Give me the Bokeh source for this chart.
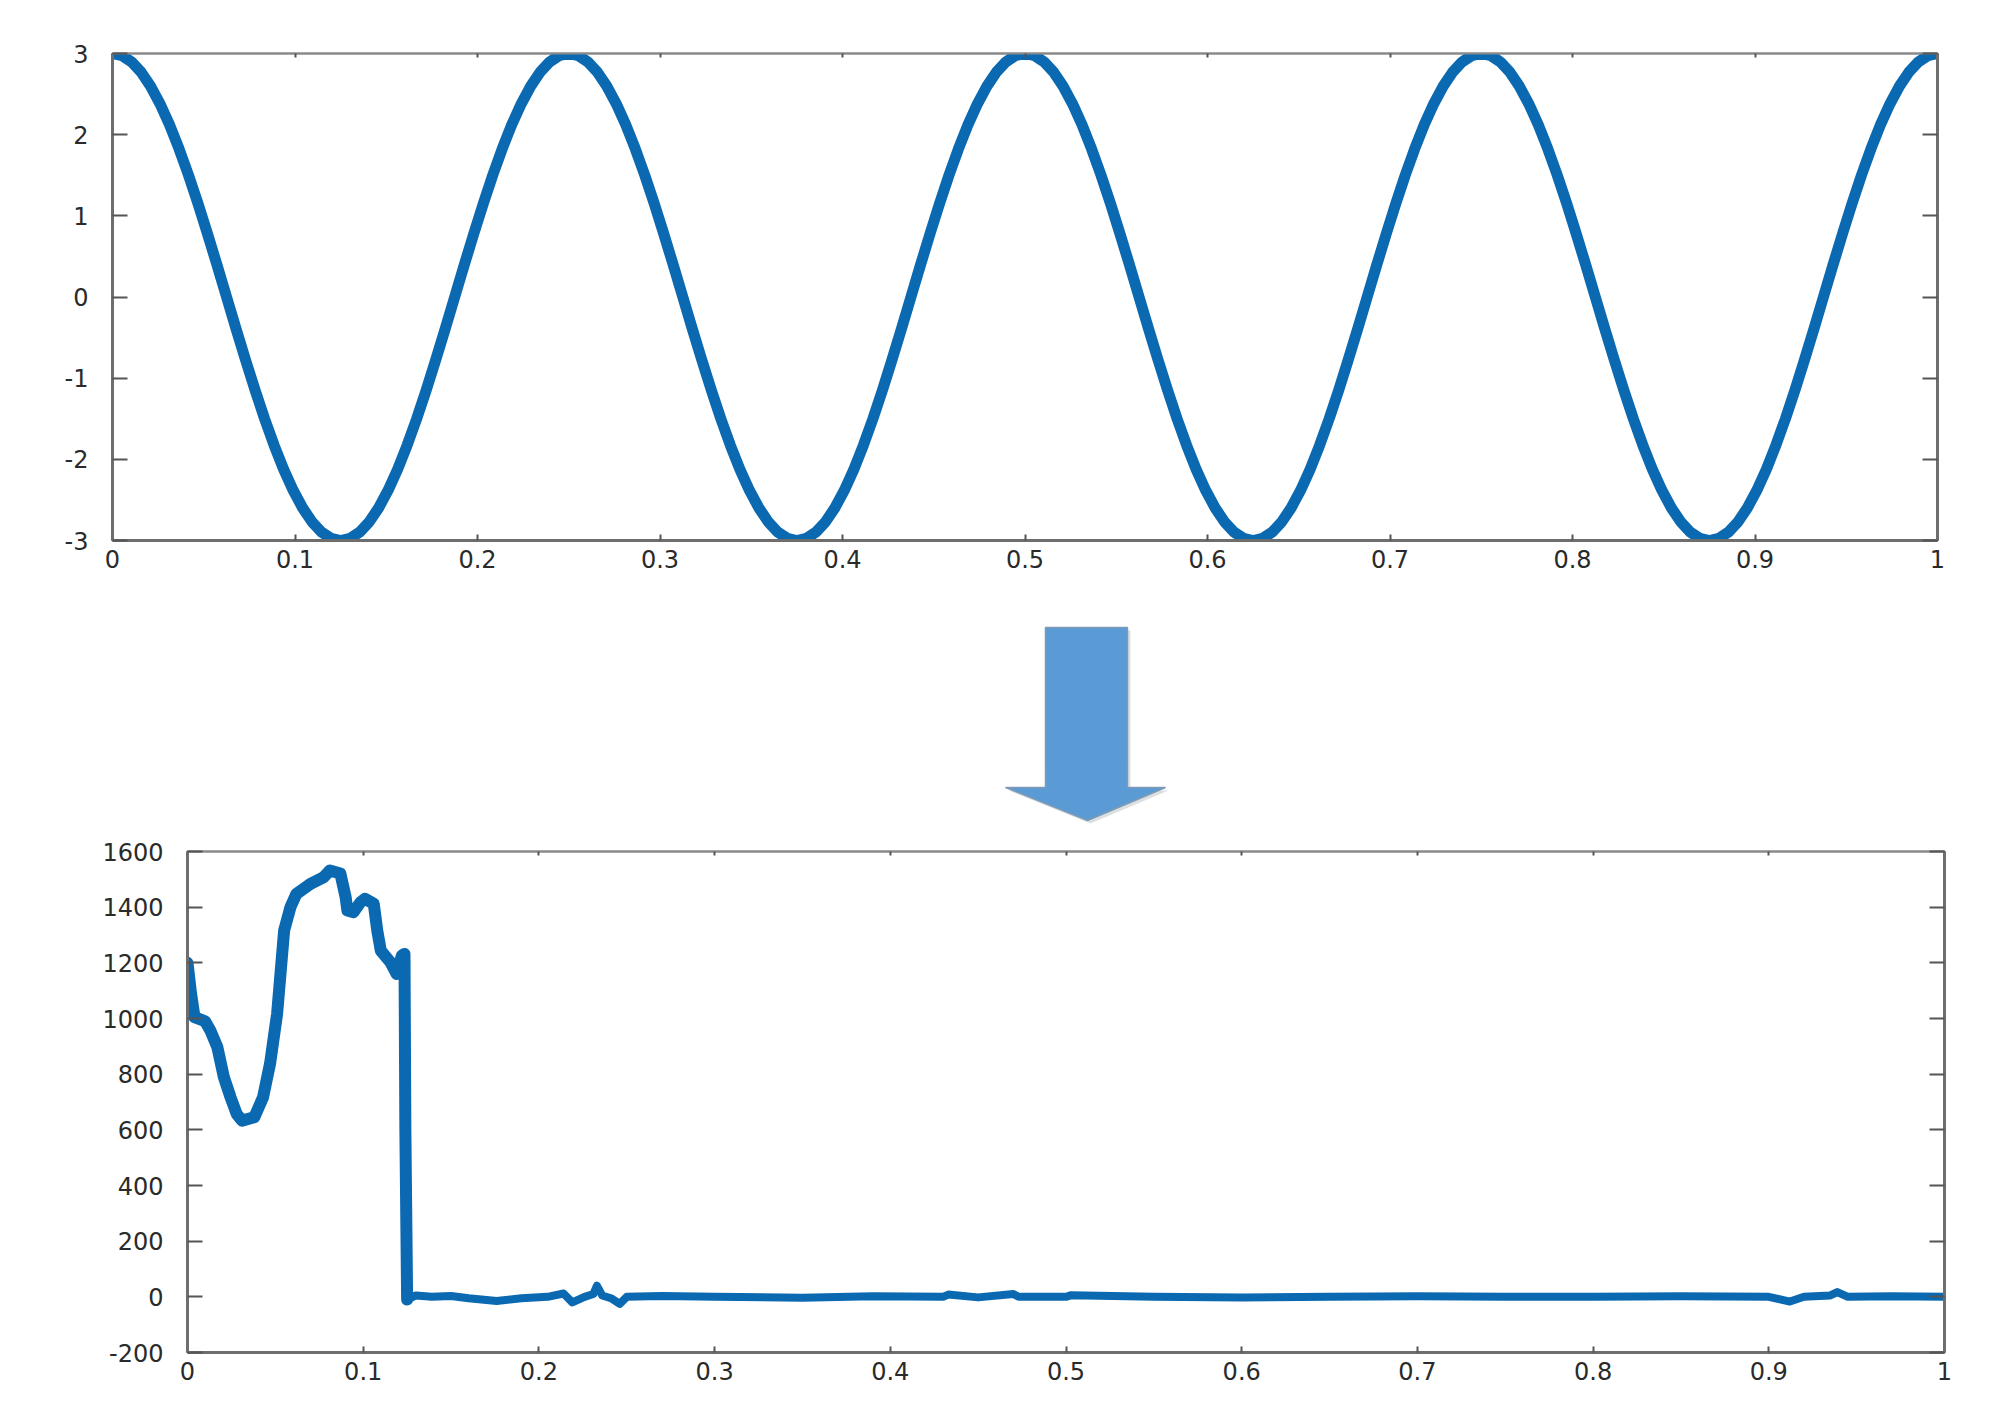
import numpy as np
from bokeh.plotting import figure
from bokeh.models import Range1d, LinearAxis, FixedTicker, CustomJSTickFormatter
from bokeh.embed import file_html
from bokeh.resources import INLINE

# ---------------- data ----------------
x_ticks = [0, 0.1, 0.2, 0.3, 0.4, 0.5, 0.6, 0.7, 0.8, 0.9, 1.0]
top_y_ticks = [-3, -2, -1, 0, 1, 2, 3]
bot_y_ticks = [-200, 0, 200, 400, 600, 800, 1000, 1200, 1400, 1600]

# top signal: samples read every 1/192 of the x range (one period)
top_period = [3.000, 2.974, 2.898, 2.772, 2.598, 2.380, 2.121, 1.826, 1.500, 1.148, 0.776, 0.392,
              0.000, -0.392, -0.776, -1.148, -1.500, -1.826, -2.121, -2.380, -2.598, -2.772,
              -2.898, -2.974, -3.000, -2.974, -2.898, -2.772, -2.598, -2.380, -2.121, -1.826,
              -1.500, -1.148, -0.776, -0.392, 0.000, 0.392, 0.776, 1.148, 1.500, 1.826, 2.121,
              2.380, 2.598, 2.772, 2.898, 2.974]
top_y = top_period + top_period + top_period + top_period + [3.000]
top_t = list(np.linspace(0, 1, len(top_y)))

bot_t = [0.000, 0.002, 0.004, 0.010, 0.013, 0.017, 0.0207, 0.0245, 0.028, 0.031, 0.038,
         0.043, 0.047, 0.051, 0.055, 0.0586, 0.062, 0.070, 0.0776, 0.081, 0.087, 0.090,
         0.091, 0.0945, 0.0985, 0.101, 0.106, 0.108, 0.110, 0.1155, 0.119, 0.122, 0.1235,
         0.1240, 0.1250, 0.130, 0.139, 0.150, 0.160, 0.176, 0.190, 0.205, 0.214, 0.219,
         0.226, 0.231, 0.233, 0.236, 0.241, 0.246, 0.250, 0.270, 0.300, 0.350, 0.390,
         0.430, 0.433, 0.450, 0.470, 0.473, 0.500, 0.503, 0.550, 0.600, 0.650, 0.700,
         0.750, 0.800, 0.850, 0.900, 0.912, 0.920, 0.935, 0.939, 0.945, 0.970, 1.000]
bot_y = [1200, 1090, 1005, 990, 957, 897, 789, 717, 657, 633, 645,
         717, 838, 1017, 1316, 1400, 1448, 1484, 1508, 1532, 1521, 1436,
         1388, 1382, 1418, 1430, 1412, 1316, 1244, 1202, 1160, 1226, 1232,
         600, -10, 5, 0, 3, -5, -15, -5, 0, 12, -20,
         0, 10, 40, 5, -5, -25, 0, 3, 0, -3, 2,
         0, 8, -2, 10, 0, 0, 6, 0, -2, 0, 2,
         0, 0, 2, 0, -17, 0, 5, 17, 0, 2, 0]
head_n = 35  # samples up to the foot of the vertical drop

LINE = "#0b69b1"
AX = "#6e6e6e"
FONT = "DejaVu Sans"

fmt_x = CustomJSTickFormatter(code="return tick.toFixed(1).replace(/\\.0$/, '');")
fmt_y = CustomJSTickFormatter(code="return Math.round(tick).toString();")


def style(p, yticks, ylen):
    p.grid.visible = False
    p.outline_line_color = "#8a8a8a"
    p.outline_line_width = 2
    p.background_fill_color = "white"
    p.border_fill_color = "white"
    xa = p.xaxis[0]
    ya = p.yaxis[0]
    xa.ticker = FixedTicker(ticks=x_ticks)
    ya.ticker = FixedTicker(ticks=yticks)
    xa.formatter = fmt_x
    ya.formatter = fmt_y
    for a, tin in ((xa, 6), (ya, ylen)):
        a.axis_line_color = AX
        a.axis_line_width = 3
        a.major_tick_line_color = "#555555"
        a.major_tick_line_width = 2
        a.major_tick_in = tin
        a.major_tick_out = 0
        a.minor_tick_line_color = None
        a.major_label_text_font = FONT
        a.major_label_text_font_size = "24px"
        a.major_label_text_color = "#2a2a2a"
    xa.major_label_standoff = 9
    ya.major_label_standoff = 24
    blank = CustomJSTickFormatter(code="return '';")
    ra = LinearAxis(ticker=FixedTicker(ticks=yticks), formatter=blank,
                    axis_line_color=AX, axis_line_width=3,
                    major_tick_line_color="#555555", major_tick_line_width=2,
                    major_tick_in=ylen, major_tick_out=0, minor_tick_line_color=None,
                    major_label_standoff=0)
    ta = LinearAxis(ticker=FixedTicker(ticks=x_ticks), formatter=blank,
                    axis_line_color="#8a8a8a", axis_line_width=2,
                    major_tick_line_color="#555555", major_tick_line_width=2,
                    major_tick_in=4, major_tick_out=0, minor_tick_line_color=None,
                    major_label_standoff=0)
    p.add_layout(ra, "right")
    p.add_layout(ta, "above")


# ---------------- top plot ----------------
p1 = figure(width=1960, height=600, output_backend="svg", toolbar_location=None,
            x_range=Range1d(0, 1), y_range=Range1d(-3, 3),
            min_border_left=112, min_border_right=23, min_border_top=53, min_border_bottom=60)
style(p1, top_y_ticks, 15)
p1.line(top_t, top_y, line_color=LINE, line_width=11, line_join="round", line_cap="round")

# ---------------- arrow ----------------
pa = figure(width=1960, height=240, output_backend="svg", toolbar_location=None,
            x_range=Range1d(0, 1960), y_range=Range1d(840, 600),
            min_border_left=0, min_border_right=0, min_border_top=0, min_border_bottom=0)
pa.axis.visible = False
pa.grid.visible = False
pa.outline_line_color = None
arrow_x = [1045, 1127, 1127, 1165, 1087, 1005, 1045]
arrow_y = [627, 627, 787, 787, 820, 787, 787]
pa.patch([v + 3 for v in arrow_x], [v + 3 for v in arrow_y], fill_color="#9aa5b0",
         fill_alpha=0.35, line_color=None)
pa.patch(arrow_x, arrow_y, fill_color="#5b9bd5", line_color="#7f9ab5", line_width=1.5)

# ---------------- bottom plot ----------------
p2 = figure(width=1960, height=572, output_backend="svg", toolbar_location=None,
            x_range=Range1d(0, 1), y_range=Range1d(-200, 1600),
            min_border_left=187, min_border_right=16, min_border_top=11, min_border_bottom=60)
style(p2, bot_y_ticks, 15)
p2.line(bot_t, bot_y, line_color=LINE, line_width=8, line_join="round", line_cap="round")
p2.line(bot_t[:head_n], bot_y[:head_n], line_color=LINE, line_width=12,
        line_join="round", line_cap="round")

open("out.html", "w").write(file_html([p1, pa, p2], INLINE))
